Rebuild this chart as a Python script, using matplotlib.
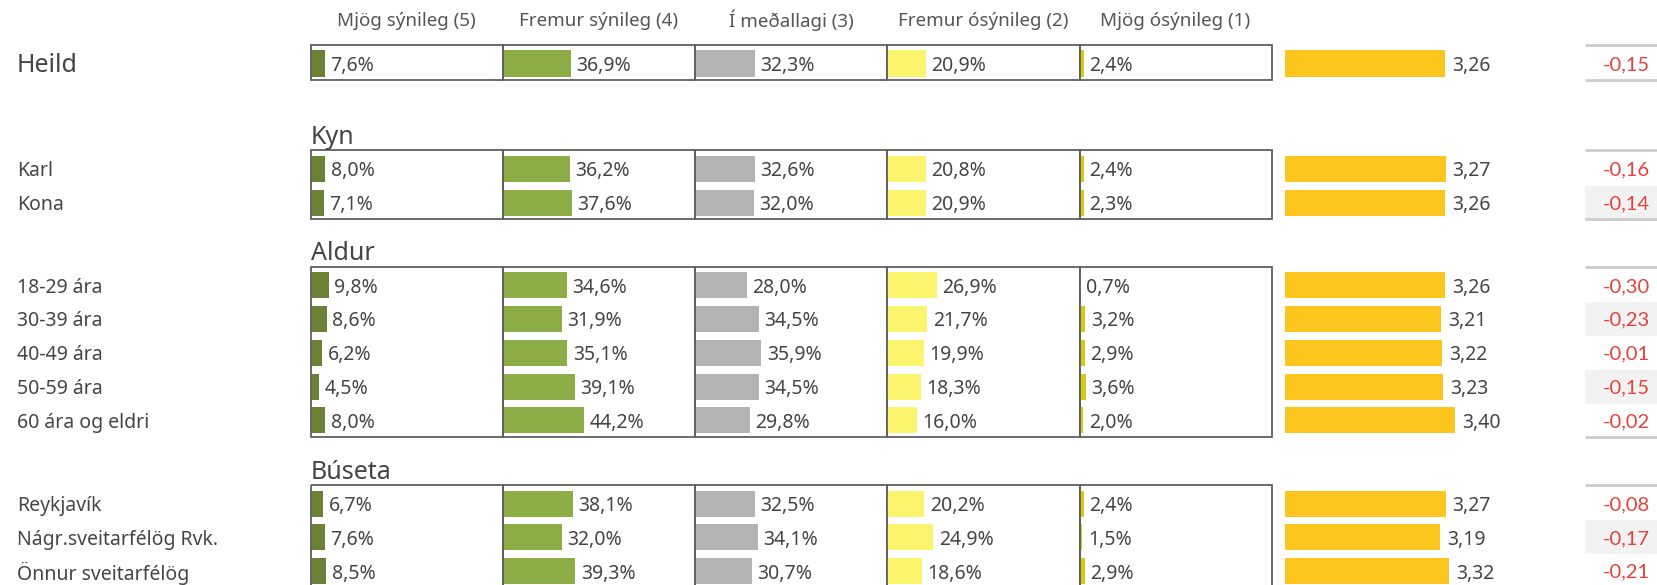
import numpy as np
import matplotlib.pyplot as plt
from matplotlib.patches import Rectangle

plt.rcParams['font.family'] = ['Noto Sans', 'DejaVu Sans']

# data
categories = ["Heild", "Karl", "Kona", "18-29 ára", "30-39 ára", "40-49 ára",
              "50-59 ára", "60 ára og eldri", "Reykjavík",
              "Nágr.sveitarfélög Rvk.", "Önnur sveitarfélög"]
groups = ["", "Kyn", "Aldur", "Búseta"]
group_sizes = [1, 2, 5, 3]
headers = ["Mjög sýnileg (5)", "Fremur sýnileg (4)", "Í meðallagi (3)",
           "Fremur ósýnileg (2)", "Mjög ósýnileg (1)"]
v5 = [7.6, 8.0, 7.1, 9.8, 8.6, 6.2, 4.5, 8.0, 6.7, 7.6, 8.5]
v4 = [36.9, 36.2, 37.6, 34.6, 31.9, 35.1, 39.1, 44.2, 38.1, 32.0, 39.3]
v3 = [32.3, 32.6, 32.0, 28.0, 34.5, 35.9, 34.5, 29.8, 32.5, 34.1, 30.7]
v2 = [20.9, 20.8, 20.9, 26.9, 21.7, 19.9, 18.3, 16.0, 20.2, 24.9, 18.6]
v1 = [2.4, 2.4, 2.3, 0.7, 3.2, 2.9, 3.6, 2.0, 2.4, 1.5, 2.9]
means = [3.26, 3.27, 3.26, 3.26, 3.21, 3.22, 3.23, 3.40, 3.27, 3.19, 3.32]
diffs = [-0.15, -0.16, -0.14, -0.30, -0.23, -0.01, -0.15, -0.02, -0.08, -0.17, -0.21]

colors = ["#6a8136", "#8cac46", "#b3b3b3", "#faf56c", "#d4cc14"]
txt = "#454545"

# row layout (row units, 0 = Heild)
gaps = [0, 3.12, 2.44, 2.46]
ypos = []
group_span = []
y = 0.0
for g, n in enumerate(group_sizes):
    y = y + gaps[g] if g > 0 else 0.0
    rows = [y + i for i in range(n)]
    group_span.append((rows[0], rows[-1]))
    ypos += rows
    y = rows[-1]
ypos = np.array(ypos)

W, H = 1657, 585
pitch = 33.8
top_px = 63.5
ylim = ((H - top_px) / pitch, -top_px / pitch)
dy = 0.07  # nudge text down a little

fig = plt.figure(figsize=(W / 100, H / 100), dpi=100)

def add_ax(x0, w):
    ax = fig.add_axes([x0 / W, 0, w / W, 1])
    ax.set_ylim(*ylim)
    ax.axis('off')
    return ax

bar_h = 0.77
col_w = 192.2
col_x0 = 310.7
xmax = col_w / 1.84

# label axis
lab = add_ax(0, 310)
lab.set_xlim(0, 310)
for i, c in enumerate(categories):
    lab.text(17, ypos[i] + dy, c, fontsize=18 if i == 0 else 14, color=txt,
             va='center', ha='left')

# five share columns
series = [v5, v4, v3, v2, v1]
for k, vals in enumerate(series):
    ax = add_ax(col_x0 + k * col_w, col_w)
    ax.set_xlim(0, xmax)
    ax.barh(ypos, vals, height=bar_h, color=colors[k], left=0)
    for yy, v in zip(ypos, vals):
        ax.annotate(f"{v:.1f}".replace('.', ',') + '%', (v, yy + dy),
                    xytext=(4, 0), textcoords='offset points',
                    va='center', ha='left', fontsize=14, color=txt)
    for a, b in group_span:
        ax.add_patch(Rectangle((0, a - 0.55), xmax, (b - a) + 1.03,
                               fill=False, ec="#5f5f5f", lw=1.3,
                               clip_on=False))
    ax.text(xmax / 2, -1.27, headers[k], ha='center', va='center',
            fontsize=13.5, color="#555555")
    if k == 0:
        for g, (a, b) in enumerate(group_span):
            if groups[g]:
                ax.text(0, a - 1.0 + dy, groups[g], ha='left', va='center',
                        fontsize=18, color=txt)

# mean column
mx0 = 1285
mw = 290
k_px = 70.8
ma = add_ax(mx0, mw)
ma.set_xlim(1, 1 + mw / k_px)
ma.barh(ypos, np.array(means) - 1, left=1, height=bar_h, color="#fcc61e")
for yy, v in zip(ypos, means):
    ma.annotate(f"{v:.2f}".replace('.', ','), (v, yy + dy), xytext=(5, 0),
                textcoords='offset points', va='center', ha='left',
                fontsize=14, color=txt)

# difference column
da = add_ax(1585, 72)
da.set_xlim(0, 1)
idx = 0
for g, n in enumerate(group_sizes):
    a, b = group_span[g]
    for i in range(n):
        yy = ypos[idx]
        if i % 2 == 1:
            da.barh(yy, 1, height=1.0, color="#f2f2f2", left=0)
        da.text(0.9, yy + dy / 2, f"{diffs[idx]:.2f}".replace('.', ','),
                ha='right', va='center', fontsize=14.5, color="#e8403a",
                family=['Lato', 'DejaVu Sans'])
        idx += 1
    da.plot([0, 1], [a - 0.55, a - 0.55], color="#cccccc", lw=2,
            solid_capstyle='butt')
    da.plot([0, 1], [b + 0.48, b + 0.48], color="#cccccc", lw=2,
            solid_capstyle='butt')

fig.savefig("out.png", dpi=100)
